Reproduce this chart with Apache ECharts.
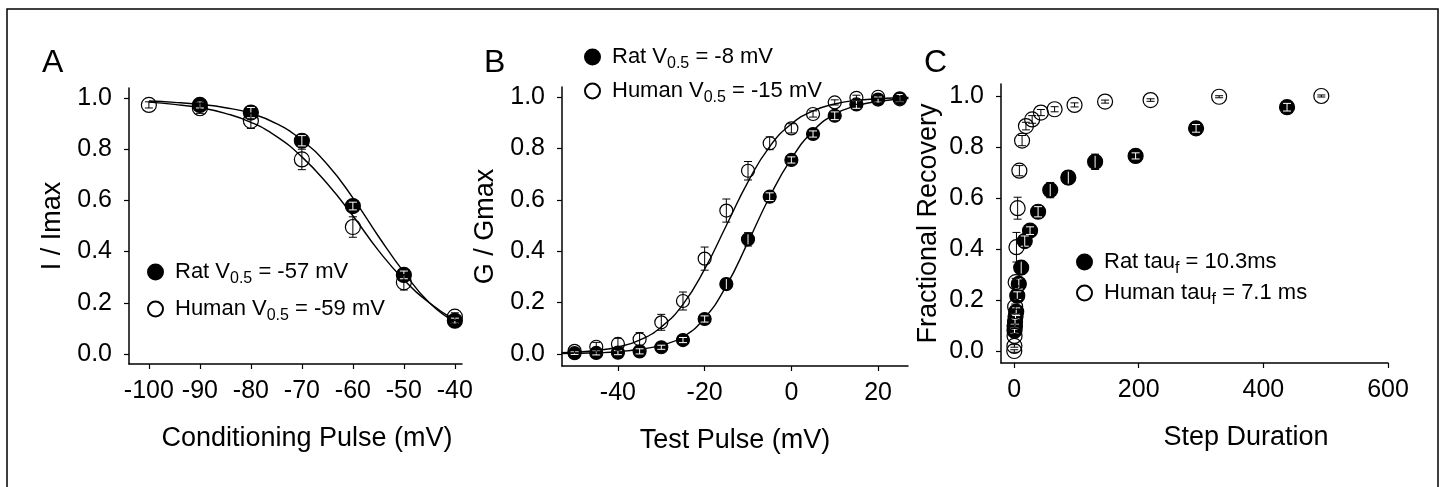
<!DOCTYPE html>
<html>
<head>
<meta charset="utf-8">
<title>Rat vs human channel gating</title>
<script src="https://cdn.jsdelivr.net/npm/echarts@6/dist/echarts.min.js"></script>
<style>
  html, body { margin: 0; padding: 0; background: #fff; }
  #chart { width: 1444px; height: 487px; }
</style>
</head>
<body>
<div id="chart"></div>
<script>
  // panel A - steady state inactivation
  var ratVoltA = [-90, -80, -70, -60, -50, -40];
  var ratA = [0.973, 0.943, 0.833, 0.578, 0.309, 0.13];
  var ratAErr = [0.012, 0.02, 0.02, 0.015, 0.015, 0.01];
  var humanVoltA = [-100, -90, -80, -70, -60, -50, -40];
  var humanA = [0.973, 0.96, 0.911, 0.76, 0.496, 0.28, 0.146];
  var humanAErr = [0.012, 0.02, 0.03, 0.04, 0.04, 0.03, 0.015];
  var fitVoltA = [-100, -95, -90, -85, -80, -75, -70, -65, -60, -55, -50, -45, -40];
  var ratFitA = [0.988, 0.983, 0.975, 0.962, 0.94, 0.9, 0.835, 0.74, 0.61, 0.46, 0.32, 0.2, 0.125];
  var humanFitA = [0.984, 0.975, 0.962, 0.94, 0.905, 0.85, 0.77, 0.665, 0.54, 0.405, 0.29, 0.2, 0.132];

  // panel B - activation
  var voltB = [-50, -45, -40, -35, -30, -25, -20, -15, -10, -5, 0, 5, 10, 15, 20, 25];
  var ratB = [0.003, 0.004, 0.005, 0.01, 0.026, 0.054, 0.136, 0.272, 0.446, 0.612, 0.755, 0.856, 0.927, 0.971, 0.99, 0.995];
  var ratBErr = [0.005, 0.008, 0.008, 0.01, 0.008, 0.01, 0.012, 0.022, 0.026, 0.015, 0.012, 0.012, 0.015, 0.015, 0.01, 0.015];
  var humanB = [0.012, 0.028, 0.039, 0.057, 0.123, 0.206, 0.371, 0.558, 0.713, 0.82, 0.878, 0.934, 0.979, 0.997, 1.001, 0.991];
  var humanBErr = [0.008, 0.017, 0.022, 0.026, 0.031, 0.035, 0.045, 0.045, 0.036, 0.025, 0.018, 0.012, 0.01, 0.01, 0.006, 0.012];
  var fitVoltB = [-53, -50, -45, -40, -35, -30, -25, -20, -15, -10, -5, 0, 5, 10, 15, 20, 25, 27];
  var ratFitB = [0.0013, 0.002, 0.0043, 0.0087, 0.018, 0.034, 0.066, 0.14, 0.265, 0.435, 0.612, 0.76, 0.868, 0.933, 0.966, 0.983, 0.992, 0.994];
  var humanFitB = [0.0044, 0.0067, 0.0135, 0.027, 0.054, 0.105, 0.193, 0.33, 0.5, 0.67, 0.807, 0.895, 0.946, 0.973, 0.987, 0.993, 0.997, 0.998];

  // panel C - recovery from inactivation
  var ratTime = [0.67, 1.0, 1.5, 2.3, 3.4, 5.1, 7.6, 11.4, 17.1, 25.6, 38.5, 58, 87, 130, 195, 292, 438];
  var ratC = [0.08, 0.095, 0.115, 0.135, 0.154, 0.217, 0.263, 0.327, 0.431, 0.472, 0.546, 0.631, 0.68, 0.742, 0.765, 0.873, 0.956];
  var ratCErr = [0.01, 0.01, 0.01, 0.01, 0.015, 0.015, 0.02, 0.025, 0.02, 0.015, 0.02, 0.03, 0.025, 0.03, 0.012, 0.015, 0.015];
  var humanTime = [0.3, 0.5, 0.75, 1.1, 1.7, 2.5, 3.8, 5.7, 8.5, 12.8, 19, 29, 43, 65, 97, 146, 219, 329, 493];
  var humanC = [0.0, 0.02, 0.059, 0.098, 0.174, 0.27, 0.407, 0.56, 0.707, 0.825, 0.882, 0.908, 0.935, 0.948, 0.965, 0.978, 0.984, 0.997, 1.0];
  var humanCErr = [0.005, 0.005, 0.005, 0.008, 0.01, 0.015, 0.058, 0.043, 0.02, 0.02, 0.015, 0.015, 0.012, 0.01, 0.008, 0.006, 0.005, 0.004, 0.004];

  // tick labels
  var ticksXA = [-100, -90, -80, -70, -60, -50, -40];
  var ticksXB = [-40, -20, 0, 20];
  var ticksXC = [0, 200, 400, 600];
  var ticksY = [0, 0.2, 0.4, 0.6, 0.8, 1.0];

  var FONT = '"Liberation Sans", Arial, sans-serif';

  function xy(xs, ys) {
    return xs.map(function (x, i) { return [x, ys[i]]; });
  }
  function xye(xs, ys, es) {
    return xs.map(function (x, i) { return [x, ys[i], es[i]]; });
  }

  // error bars; when clipR is set only the part inside the symbol is drawn
  function errorBar(color, clipR) {
    return function (params, api) {
      var x = api.value(0), y = api.value(1), e = api.value(2);
      var c = api.coord([x, y]);
      var top = api.coord([x, y + e])[1];
      var bot = api.coord([x, y - e])[1];
      var w = 4;
      var st = {stroke: color, lineWidth: 1, fill: null};
      var kids = [];
      if (clipR) {
        var t2 = Math.max(top, c[1] - clipR), b2 = Math.min(bot, c[1] + clipR);
        kids.push({type: 'line', shape: {x1: c[0], y1: t2, x2: c[0], y2: b2}, style: st});
        if (c[1] - top < clipR) kids.push({type: 'line', shape: {x1: c[0] - w, y1: top, x2: c[0] + w, y2: top}, style: st});
        if (bot - c[1] < clipR) kids.push({type: 'line', shape: {x1: c[0] - w, y1: bot, x2: c[0] + w, y2: bot}, style: st});
      } else {
        kids.push({type: 'line', shape: {x1: c[0], y1: top, x2: c[0], y2: bot}, style: st});
        kids.push({type: 'line', shape: {x1: c[0] - w, y1: top, x2: c[0] + w, y2: top}, style: st});
        kids.push({type: 'line', shape: {x1: c[0] - w, y1: bot, x2: c[0] + w, y2: bot}, style: st});
      }
      return {type: 'group', children: kids};
    };
  }

  function fitLine(idx, xs, ys) {
    return {
      type: 'line', xAxisIndex: idx, yAxisIndex: idx, data: xy(xs, ys),
      smooth: true, showSymbol: false, silent: true, z: 1,
      lineStyle: {color: '#000', width: 1.4}
    };
  }

  function dots(name, idx, xs, ys, filled, size) {
    return {
      type: 'scatter', name: name, xAxisIndex: idx, yAxisIndex: idx,
      data: xy(xs, ys), symbol: 'circle', symbolSize: size, z: filled ? 2 : 4,
      itemStyle: {
        color: filled ? '#000' : 'rgba(255,255,255,0)',
        borderColor: '#000', borderWidth: 1.2, opacity: 1
      },
      emphasis: {disabled: true}
    };
  }

  function bars(idx, xs, ys, es, color, clipR, z) {
    return {
      type: 'custom', xAxisIndex: idx, yAxisIndex: idx, z: z, silent: true,
      data: xye(xs, ys, es), renderItem: errorBar(color, clipR)
    };
  }

  function xAx(idx, min, max, ticks, name, pad) {
    return {
      type: 'value', gridIndex: idx, min: min, max: max,
      name: name, nameLocation: 'middle', nameGap: 61,
      nameTextStyle: {fontSize: 27, color: '#000', fontFamily: FONT, padding: [0, 0, 0, pad]},
      axisLine: {onZero: false, lineStyle: {color: '#000', width: 1.5}},
      axisTick: {length: 5, lineStyle: {color: '#000', width: 1.2}, customValues: ticks},
      axisLabel: {fontSize: 25, color: '#000', fontFamily: FONT, margin: 15, customValues: ticks},
      splitLine: {show: false}
    };
  }

  function yAx(idx, min, max, name, gap) {
    return {
      type: 'value', gridIndex: idx, min: min, max: max,
      name: name, nameLocation: 'middle', nameGap: gap,
      nameTextStyle: {fontSize: 27, color: '#000', fontFamily: FONT},
      axisLine: {onZero: false, lineStyle: {color: '#000', width: 1.5}},
      axisTick: {length: 5, lineStyle: {color: '#000', width: 1.2}, customValues: ticksY},
      axisLabel: {
        fontSize: 25, color: '#000', fontFamily: FONT, margin: 17, customValues: ticksY,
        formatter: function (v) { return v.toFixed(1); }
      },
      splitLine: {show: false}
    };
  }

  var labels = {
    'Rat A': '{p|Rat V}{s|0.5}{m| = -57 mV}',
    'Human A': '{p|Human V}{s|0.5}{m| = -59 mV}',
    'Rat B': '{p|Rat V}{s|0.5}{m| = -8 mV}',
    'Human B': '{p|Human V}{s|0.5}{m| = -15 mV}',
    'Rat C': '{p|Rat tau}{s|f}{m| = 10.3ms}',
    'Human C': '{p|Human tau}{s|f}{m| = 7.1 ms}'
  };
  var rich = {
    p: {fontSize: 22, lineHeight: 30, color: '#000', fontFamily: FONT, padding: [0, 0, 0, 7]},
    m: {fontSize: 22, lineHeight: 30, color: '#000', fontFamily: FONT},
    s: {fontSize: 16, lineHeight: 16, color: '#000', fontFamily: FONT, verticalAlign: 'bottom', padding: [14, 0, 0, 0]}
  };
  function legendAt(left, top, gap, names) {
    return {
      orient: 'vertical', left: left, top: top, itemGap: gap,
      itemWidth: 15, itemHeight: 15, selectedMode: false, data: names,
      formatter: function (n) { return labels[n]; },
      textStyle: {rich: rich}
    };
  }

  var option = {
    animation: false,
    backgroundColor: '#fff',
    grid: [
      {left: 129, top: 88, width: 333, height: 276, outerBoundsMode: 'none'},
      {left: 562, top: 87, width: 346, height: 279, outerBoundsMode: 'none'},
      {left: 1001, top: 84, width: 387, height: 279, outerBoundsMode: 'none'}
    ],
    xAxis: [
      xAx(0, -103.9, -38.6, ticksXA, 'Conditioning Pulse (mV)', 23),
      xAx(1, -52.9, 26.9, ticksXB, 'Test Pulse (mV)', 0),
      xAx(2, -21, 600, ticksXC, 'Step Duration', 103)
    ],
    yAxis: [
      yAx(0, -0.039, 1.039, 'I / Imax', 63),
      yAx(1, -0.047, 1.039, 'G / Gmax', 63),
      yAx(2, -0.047, 1.047, 'Fractional Recovery', 59)
    ],
    legend: [
      legendAt(142, 252, 7, ['Rat A', 'Human A']),
      legendAt(579, 37, 4, ['Rat B', 'Human B']),
      legendAt(1071, 242, 1, ['Rat C', 'Human C'])
    ],
    graphic: [
      {type: 'rect', shape: {x: 7, y: 9, width: 1431, height: 520}, style: {fill: null, stroke: '#000', lineWidth: 1.5}, silent: true},
      {type: 'text', left: 42, top: 47, style: {text: 'A', font: '32px ' + FONT, fill: '#000'}},
      {type: 'text', left: 484, top: 47, style: {text: 'B', font: '32px ' + FONT, fill: '#000'}},
      {type: 'text', left: 924, top: 47, style: {text: 'C', font: '32px ' + FONT, fill: '#000'}}
    ],
    series: [
      fitLine(0, fitVoltA, ratFitA),
      fitLine(0, fitVoltA, humanFitA),
      bars(0, ratVoltA, ratA, ratAErr, '#000', 0, 1),
      dots('Rat A', 0, ratVoltA, ratA, true, 15),
      bars(0, ratVoltA, ratA, ratAErr, '#fff', 6, 3),
      dots('Human A', 0, humanVoltA, humanA, false, 15),
      bars(0, humanVoltA, humanA, humanAErr, '#000', 0, 5),

      fitLine(1, fitVoltB, ratFitB),
      fitLine(1, fitVoltB, humanFitB),
      bars(1, voltB, ratB, ratBErr, '#000', 0, 1),
      dots('Rat B', 1, voltB, ratB, true, 13),
      bars(1, voltB, ratB, ratBErr, '#fff', 5, 3),
      dots('Human B', 1, voltB, humanB, false, 13),
      bars(1, voltB, humanB, humanBErr, '#000', 0, 5),

      bars(2, ratTime, ratC, ratCErr, '#000', 0, 1),
      dots('Rat C', 2, ratTime, ratC, true, 15),
      bars(2, ratTime, ratC, ratCErr, '#fff', 6, 3),
      dots('Human C', 2, humanTime, humanC, false, 15),
      bars(2, humanTime, humanC, humanCErr, '#000', 0, 5)
    ]
  };

  echarts.init(document.getElementById('chart')).setOption(option);
</script>
</body>
</html>
